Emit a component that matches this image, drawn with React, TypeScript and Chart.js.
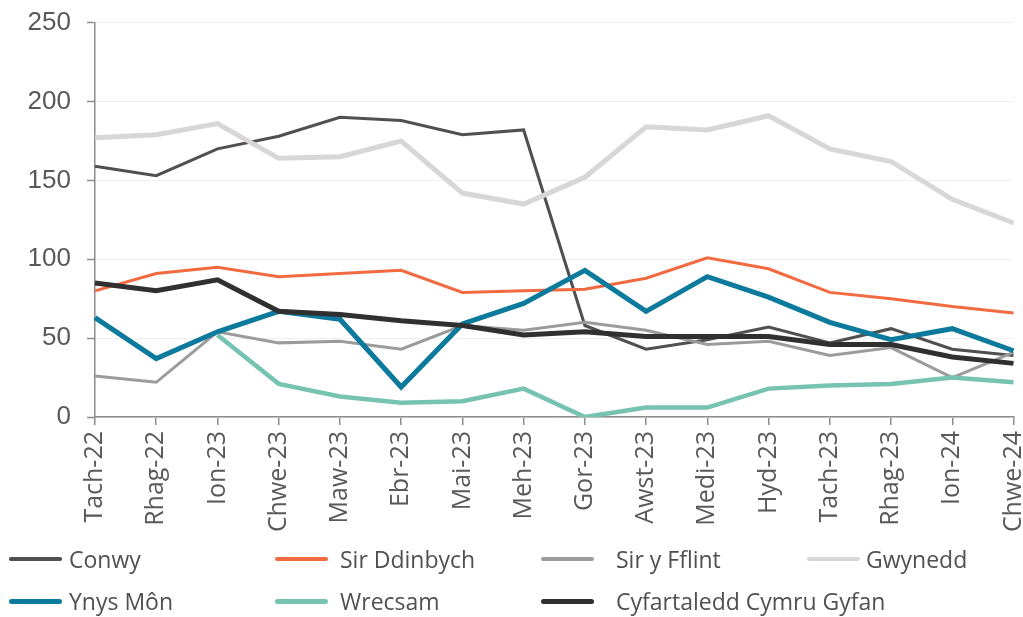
import React, { useEffect, useRef } from "react";
import { Chart, registerables } from "chart.js";

Chart.register(...registerables);

const months = ["Tach-22", "Rhag-22", "Ion-23", "Chwe-23", "Maw-23", "Ebr-23", "Mai-23", "Meh-23", "Gor-23", "Awst-23", "Medi-23", "Hyd-23", "Tach-23", "Rhag-23", "Ion-24", "Chwe-24"];

const conwy = [159, 153, 170, 178, 190, 188, 179, 182, 58, 43, 49, 57, 47, 56, 43, 39];
const sirDdinbych = [80, 91, 95, 89, 91, 93, 79, 80, 81, 88, 101, 94, 79, 75, 70, 66];
const sirYFflint = [26, 22, 54, 47, 48, 43, 58, 55, 60, 55, 46, 48, 39, 44, 25, 41];
const gwynedd = [177, 179, 186, 164, 165, 175, 142, 135, 152, 184, 182, 191, 170, 162, 138, 123];
const ynysMon = [63, 37, 54, 67, 62, 19, 59, 72, 93, 67, 89, 76, 60, 49, 56, 42];
const wrecsam = [null, null, 52, 21, 13, 9, 10, 18, 0, 6, 6, 18, 20, 21, 25, 22];
const cymru = [85, 80, 87, 67, 65, 61, 58, 52, 54, 51, 51, 51, 46, 46, 38, 34];

const seriesNames = ["Conwy", "Sir Ddinbych", "Sir y Fflint", "Gwynedd", "Ynys Môn", "Wrecsam", "Cyfartaledd Cymru Gyfan"];
const seriesData = [conwy, sirDdinbych, sirYFflint, gwynedd, ynysMon, wrecsam, cymru];
const seriesColors = ["#505050", "#f26a3f", "#9b9b9b", "#d8d6d6", "#0b7a9c", "#76c3b1", "#303030"];
const seriesWidths = [3, 3, 3, 5, 5, 4.5, 5];
const legendWidths = [3.5, 4, 4, 4, 5, 5, 5];

// legend layout: [swatchLeft, textLeft, rowCenterY]
const legendPos = [
  [9, 69, 559],
  [275, 340, 559],
  [541, 616, 559],
  [807, 866, 559],
  [9, 69, 601],
  [275, 340, 601],
  [541, 616, 601],
];

export default function App() {
  const canvasRef = useRef<HTMLCanvasElement | null>(null);

  useEffect(() => {
    const canvas = canvasRef.current;
    if (!canvas) return;
    const chart = new Chart(canvas, {
      type: "line",
      data: {
        labels: months,
        datasets: seriesNames.map((name, i) => ({
          label: name,
          data: seriesData[i],
          borderColor: seriesColors[i],
          backgroundColor: seriesColors[i],
          borderWidth: seriesWidths[i],
          pointRadius: 0,
          tension: 0,
          fill: false,
          order: seriesNames.length - i,
          spanGaps: false,
        })),
      },
      options: {
        animation: false,
        responsive: false,
        devicePixelRatio: 1,
        layout: {
          autoPadding: false,
          padding: { top: 22.7, left: 0, right: 9.5, bottom: 0 },
        },
        plugins: {
          legend: { display: false },
          tooltip: { enabled: false },
        },
        scales: {
          x: {
            offset: false,
            grid: {
              drawOnChartArea: false,
              drawTicks: true,
              tickLength: 8,
              tickColor: "#8c8c8c",
              lineWidth: 1.5,
            },
            border: { color: "#8c8c8c", width: 1.5 },
            ticks: {
              autoSkip: false,
              minRotation: 90,
              maxRotation: 90,
              padding: 6,
              color: "#595959",
              font: { family: "'Open Sans'", size: 25 },
            },
            afterFit: (scale: any) => {
              scale.height = 200;
              scale.paddingLeft = 0;
              scale.paddingRight = 0;
            },
          },
          y: {
            min: 0,
            max: 250,
            ticks: {
              stepSize: 50,
              padding: 16,
              color: "#595959",
              font: { family: "'Liberation Sans', Arial, sans-serif", size: 26 },
            },
            grid: {
              color: "#efefef",
              lineWidth: 1,
              tickLength: 8,
              tickColor: "#8c8c8c",
              tickWidth: 1.5,
            },
            border: { color: "#8c8c8c", width: 1.5 },
            afterFit: (scale: any) => {
              scale.width = 95;
              scale.paddingTop = 0;
              scale.paddingBottom = 0;
            },
          },
        },
      },
    });
    return () => chart.destroy();
  }, []);

  return (
    <div style={{ position: "absolute", left: 0, top: 0, width: 1023, height: 617, background: "#fff", overflow: "hidden" }}>
      <canvas ref={canvasRef} width={1023} height={617} style={{ position: "absolute", left: 0, top: 0, width: 1023, height: 617 }} />
      {seriesNames.map((name, i) => {
        const [sx, tx, cy] = legendPos[i];
        return (
          <React.Fragment key={name}>
            <div
              style={{
                position: "absolute",
                left: sx,
                top: cy - legendWidths[i] / 2,
                width: 53,
                height: legendWidths[i],
                background: seriesColors[i],
                borderRadius: legendWidths[i] / 2,
              }}
            />
            <div
              style={{
                position: "absolute",
                left: tx,
                top: cy - 16,
                height: 32,
                display: "flex",
                alignItems: "center",
                whiteSpace: "nowrap",
                fontFamily: "'Open Sans', sans-serif",
                fontSize: 23,
                color: "#505050",
              }}
            >
              {name}
            </div>
          </React.Fragment>
        );
      })}
    </div>
  );
}
